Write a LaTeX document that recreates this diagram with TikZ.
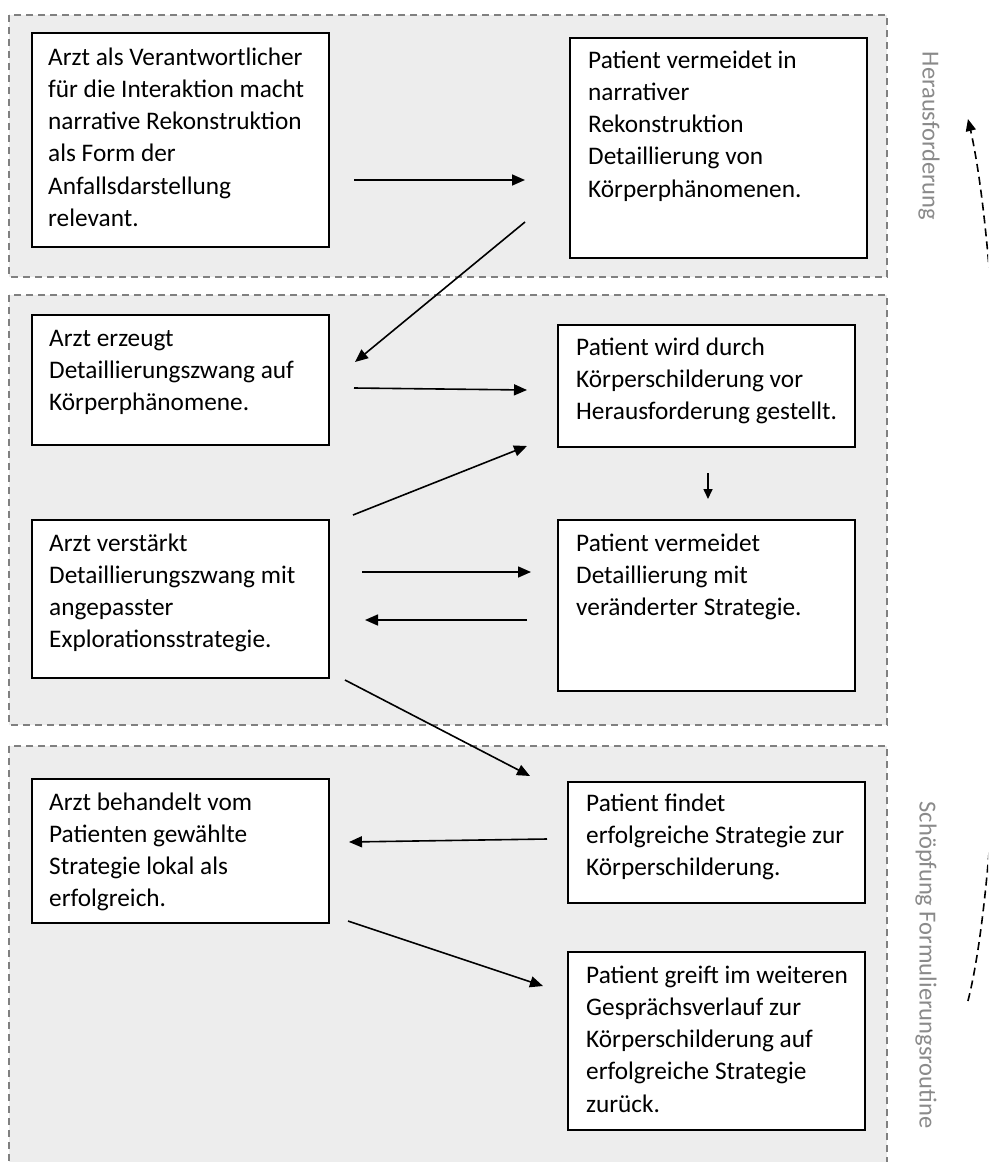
\documentclass[tikz,border=0pt]{standalone}
\usepackage{fontspec}
\setmainfont{Carlito}
\usetikzlibrary{arrows.meta,calc}
\definecolor{grpfill}{HTML}{EDEDED}
\definecolor{grpline}{HTML}{808080}
\definecolor{lblcol}{HTML}{8A8A8A}
\begin{document}
\begin{tikzpicture}[x=1pt,y=-1pt,
  grp/.style={draw=grpline, fill=grpfill, line width=1.5pt, dash pattern=on 7pt off 5pt},
  boxst/.style={draw=black, fill=white, line width=1.6pt, anchor=north west, inner sep=0pt},
  txt/.style={anchor=north west, inner sep=0pt, align=left, font=\fontsize{25.3}{32.2}\selectfont},
  arr/.style={line width=1.6pt, -{Triangle[length=13pt,width=11pt]}},
  lbl/.style={text=lblcol, font=\fontsize{24.5}{28}\selectfont, rotate=-90, inner sep=0pt},
  loopar/.style={line width=1.6pt, dash pattern=on 8pt off 5pt, -{Triangle[length=12pt,width=10pt]}}
]
\useasboundingbox (0,0) rectangle (988,1162);
\clip (0,0) rectangle (988,1162);
\fill[white] (0,0) rectangle (988,1162);

% groups
\draw[grp] (9,15) rectangle (887,277);
\draw[grp] (9,295) rectangle (887,725);
\draw[grp] (9,746) rectangle (887,1200);

% boxes
\node[boxst, minimum width=297pt, minimum height=214pt] (b1) at (31,32) {};
\node[boxst, minimum width=297pt, minimum height=220pt] (b2) at (569,37) {};
\node[boxst, minimum width=297pt, minimum height=130pt] (b3) at (31,314) {};
\node[boxst, minimum width=297pt, minimum height=122pt] (b4) at (557,324) {};
\node[boxst, minimum width=297pt, minimum height=158pt] (b5) at (31,519) {};
\node[boxst, minimum width=297pt, minimum height=171pt] (b6) at (557,519) {};
\node[boxst, minimum width=297pt, minimum height=144pt] (b7) at (31,778) {};
\node[boxst, minimum width=297pt, minimum height=121pt] (b8) at (567,781) {};
\node[boxst, minimum width=297pt, minimum height=178pt] (b9) at (567,951) {};

% texts
\node[txt] (b1t) at ([shift={(17pt,-13pt)}]b1.north west) {\rule{0pt}{20pt}Arzt als Verantwortlicher\\für die Interaktion macht\\narrative Rekonstruktion\\als Form der\\Anfallsdarstellung\\relevant.};
\node[txt] (b2t) at ([shift={(19pt,-11pt)}]b2.north west) {\rule{0pt}{20pt}Patient vermeidet in\\narrativer\\Rekonstruktion\\Detaillierung von\\Körperphänomenen.};
\node[txt] (b3t) at ([shift={(18pt,-12pt)}]b3.north west) {\rule{0pt}{20pt}Arzt erzeugt\\Detaillierungszwang auf\\Körperphänomene.};
\node[txt] (b4t) at ([shift={(19pt,-11pt)}]b4.north west) {\rule{0pt}{20pt}Patient wird durch\\Körperschilderung vor\\Herausforderung gestellt.};
\node[txt] (b5t) at ([shift={(18pt,-12pt)}]b5.north west) {\rule{0pt}{20pt}Arzt verstärkt\\Detaillierungszwang mit\\angepasster\\Explorationsstrategie.};
\node[txt] (b6t) at ([shift={(19pt,-12pt)}]b6.north west) {\rule{0pt}{20pt}Patient vermeidet\\Detaillierung mit\\veränderter Strategie.};
\node[txt] (b7t) at ([shift={(18pt,-12pt)}]b7.north west) {\rule{0pt}{20pt}Arzt behandelt vom\\Patienten gewählte\\Strategie lokal als\\erfolgreich.};
\node[txt] (b8t) at ([shift={(19pt,-10pt)}]b8.north west) {\rule{0pt}{20pt}Patient findet\\erfolgreiche Strategie zur\\Körperschilderung.};
\node[txt] (b9t) at ([shift={(19pt,-12pt)}]b9.north west) {\rule{0pt}{20pt}Patient greift im weiteren\\Gesprächsverlauf zur\\Körperschilderung auf\\erfolgreiche Strategie\\zurück.};

% side labels
\node[lbl] (l1) at (929,136) {Herausforderung};
\node[lbl] (l2) at (926,965) {Schöpfung Formulierungsroutine};

% arrow end points
\coordinate (a1s) at (354,180); \coordinate (a1e) at (525,180);
\coordinate (a2s) at (525,222); \coordinate (a2e) at (355,362);
\coordinate (a3s) at (354,388); \coordinate (a3e) at (527,390);
\coordinate (a4s) at (353,515); \coordinate (a4e) at (527,446);
\coordinate (a5s) at (708,473); \coordinate (a5e) at (708,499);
\coordinate (a6s) at (362,572); \coordinate (a6e) at (531,572);
\coordinate (a7s) at (527,620); \coordinate (a7e) at (365,620);
\coordinate (a8s) at (345,680); \coordinate (a8e) at (530,776);
\coordinate (a9s) at (547,839); \coordinate (a9e) at (349,842);
\coordinate (a10s) at (348,921); \coordinate (a10e) at (543,986);

\draw[arr] (a1s) -- (a1e);
\draw[arr] (a2s) -- (a2e);
\draw[arr] (a3s) -- (a3e);
\draw[arr] (a4s) -- (a4e);
\draw[line width=1.6pt, -{Triangle[length=10pt,width=9pt]}] (a5s) -- (a5e);
\draw[arr] (a6s) -- (a6e);
\draw[arr] (a7s) -- (a7e);
\draw[arr] (a8s) -- (a8e);
\draw[arr] (a9s) -- (a9e);
\draw[arr] (a10s) -- (a10e);

% big dashed return arc (mostly outside the picture)
\draw[loopar] plot[domain=66.75:-66.75, samples=80, smooth] ({947+53*cos(\x)}, {560+480*sin(\x)});
\end{tikzpicture}
\end{document}
